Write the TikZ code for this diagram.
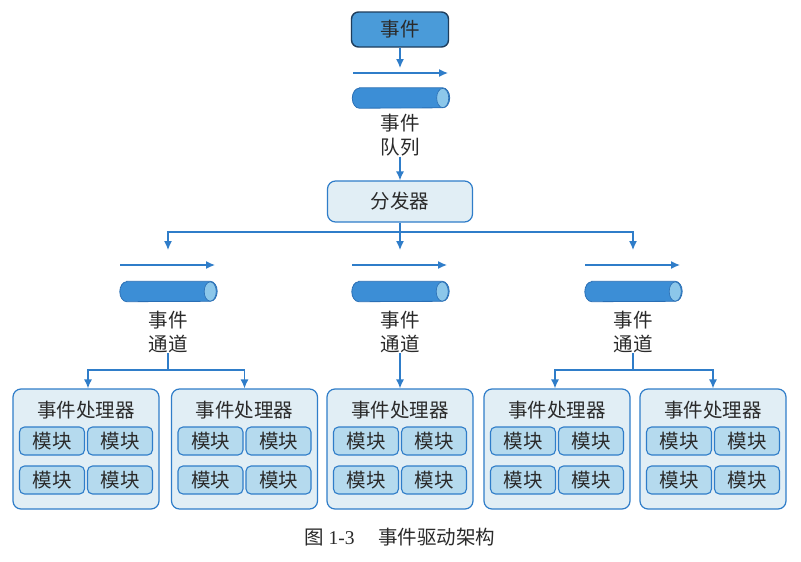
\documentclass[tikz,border=0pt]{standalone}
\usepackage{fontspec}
\setmainfont{Noto Sans CJK SC}
\newfontfamily\numfont{Liberation Serif}
\usetikzlibrary{arrows.meta}
\definecolor{lineblue}{HTML}{2F7DC9}
\definecolor{darkedge}{HTML}{1E3D5C}
\definecolor{evfill}{HTML}{4A9BD9}
\definecolor{palefill}{HTML}{E1EEF5}
\definecolor{modfill}{HTML}{B5DAEE}
\definecolor{tubebody}{HTML}{3C8ED6}
\definecolor{tubeend}{HTML}{8CC7EA}
\definecolor{tubeedge}{HTML}{2A6FB5}
\definecolor{inktext}{HTML}{2A2A2A}

% horizontal tube drawn over an invisible slot node
\newcommand{\drawtube}[1]{%
  \path[draw=tubeedge, line width=0.8pt, fill=tubebody]
    ([xshift=7pt]#1.north west) -- ([xshift=-7pt]#1.north east)
    arc[start angle=90, end angle=-90, x radius=7pt, y radius=10pt]
    -- ([xshift=7pt]#1.south west)
    arc[start angle=270, end angle=90, x radius=7pt, y radius=10pt] -- cycle;
  \path[draw=tubeedge, line width=0.6pt, fill=tubeend]
    ([xshift=-7pt]#1.east) ellipse[x radius=6pt, y radius=9.6pt];
}

\begin{document}
\begin{tikzpicture}[x=1pt,y=-1pt,
  every node/.style={inner sep=0pt, text=inktext, font=\fontsize{19.5}{24}\selectfont},
  flow/.style={draw=lineblue, line width=1.3pt, -{Latex[length=9pt,width=8pt]}},
  link/.style={draw=lineblue, line width=1.3pt},
  source/.style={draw=darkedge, line width=1.4pt, fill=evfill, rounded corners=7pt,
    minimum width=97pt, minimum height=35pt},
  hub/.style={draw=lineblue, line width=1.2pt, fill=palefill, rounded corners=8pt,
    minimum width=145pt, minimum height=41pt},
  panel/.style={draw=lineblue, line width=1.2pt, fill=palefill, rounded corners=8pt,
    minimum width=146pt, minimum height=120pt},
  module/.style={draw=lineblue, line width=1.1pt, fill=modfill, rounded corners=5pt,
    minimum width=65pt, minimum height=28pt},
  tubeslot/.style={minimum width=97pt, minimum height=20pt},
  caption/.style={align=center}
]
% canvas
\path[fill=white] (0,0) rectangle (801,562);
\useasboundingbox (0,0) rectangle (801,562);

% event source and queue
\node[source] (ev) at (400,29.5) {事件};
\coordinate (evtip) at (400,68);
\draw[flow] (ev.south) -- (evtip);
\coordinate (qa) at (353,73);
\coordinate (qb) at (448,73);
\draw[flow] (qa) -- (qb);
\node[tubeslot] (queue) at (401,98) {};
\drawtube{queue}
\node[caption] (queuelbl) at (400,135.5) {事件\\队列};

% dispatcher
\node[hub] (disp) at (400,201.5) {分发器};
\draw[flow] (queuelbl.south) -- (disp.north);
\coordinate (fork) at (400,232);
\coordinate (tipL) at (168,250);
\coordinate (tipM) at (400,250);
\coordinate (tipR) at (633,250);
\draw[link] (disp.south) -- (fork);
\draw[flow] (fork) -| (tipL);
\draw[flow] (fork) -- (tipM);
\draw[flow] (fork) -| (tipR);

% event channels
\foreach \nm/\cx in {L/168, M/400, R/633} {
  \coordinate (ca\nm) at (\cx-48,265);
  \coordinate (cb\nm) at (\cx+47,265);
  \draw[flow] (ca\nm) -- (cb\nm);
  \node[tubeslot] (chan\nm) at (\cx+0.5,291.5) {};
  \drawtube{chan\nm}
  \node[caption] (lbl\nm) at (\cx,332) {事件\\通道};
}

% event handlers
\foreach \nm/\cx in {1/86, 2/244.5, 3/400, 4/557, 5/713} {
  \node[panel] (h\nm) at (\cx,449) {};
  \node (t\nm) at (\cx,410) {事件处理器};
  \node[module] (m\nm a) at (\cx-34,441) {模块};
  \node[module] (m\nm b) at (\cx+34,441) {模块};
  \node[module] (m\nm c) at (\cx-34,480) {模块};
  \node[module] (m\nm d) at (\cx+34,480) {模块};
}

% channel to handler routing
\coordinate (forkL) at (168,370);
\coordinate (forkR) at (633,370);
\draw[link] (lblL.south) -- (forkL);
\draw[flow] (forkL) -| ([xshift=2pt]h1.north);
\draw[flow] (forkL) -| (h2.north);
\draw[flow] (lblM.south) -- (h3.north);
\draw[link] (lblR.south) -- (forkR);
\draw[flow] (forkR) -| ([xshift=-2pt]h4.north);
\draw[flow] (forkR) -| (h5.north);

% figure caption
\node (cap) at (400,537) {图 {\numfont 1-3}\hspace{1.2em}事件驱动架构};
\end{tikzpicture}
\end{document}
